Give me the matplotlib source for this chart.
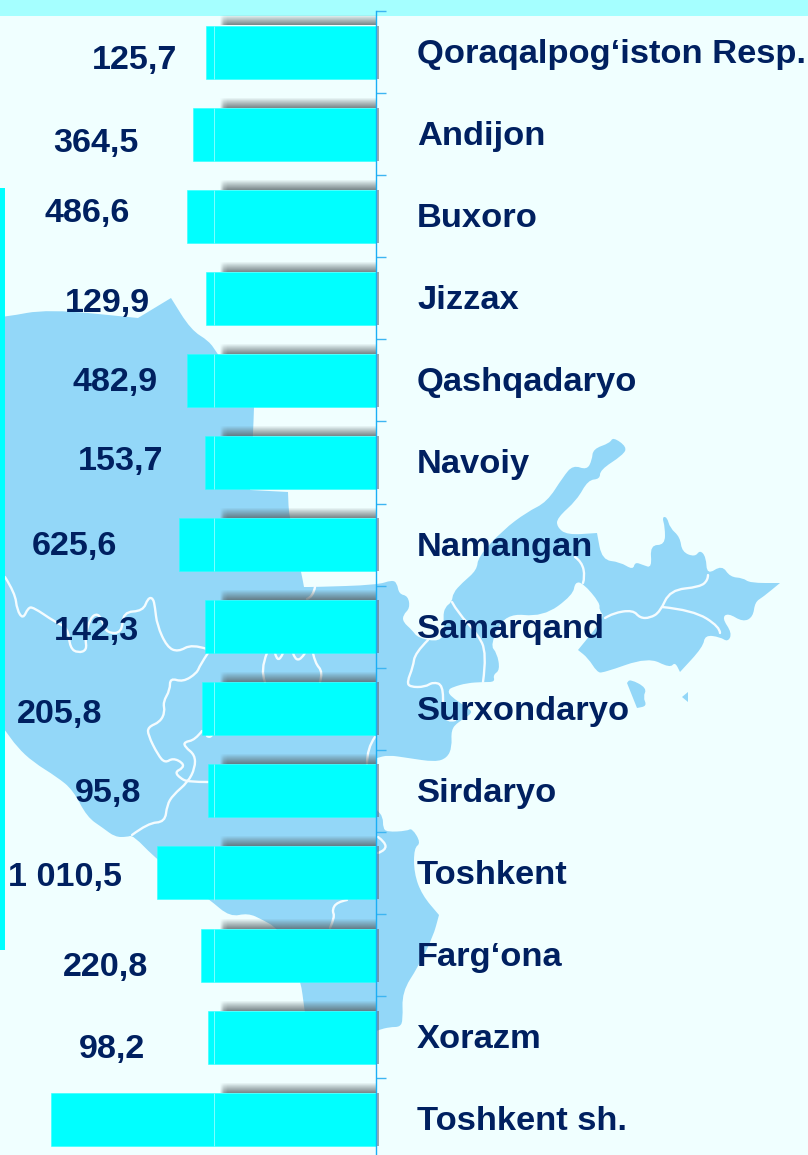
"""Regional bars over a pale map of Uzbekistan."""

import matplotlib

matplotlib.use("Agg")
import matplotlib.pyplot as plt
from matplotlib.patches import PathPatch
from matplotlib.path import Path
import numpy as np

BG = "#F0FFFF"
BAND = "#A5FFFF"
CYAN = "#00FFFF"
MAP = "#93D7F8"
INK = "#002060"
AXIS = "#1AAEF5"
SHADOW = "#566367"

regions = [
    "Qoraqalpog‘iston Resp.", "Andijon", "Buxoro", "Jizzax", "Qashqadaryo", "Navoiy", "Namangan",
    "Samarqand", "Surxondaryo", "Sirdaryo", "Toshkent", "Farg‘ona", "Xorazm", "Toshkent sh.",
]
# bars in the source are not to scale with the printed numbers, so lengths are read off separately
bar_lengths = [169.7, 183, 189.5, 170, 189.5, 171, 197, 170.7, 174, 168, 218.7, 175, 168, 325]
value_labels = [
    "125,7", "364,5", "486,6", "129,9", "482,9", "153,7", "625,6",
    "142,3", "205,8", "95,8", "1 010,5", "220,8", "98,2",
]
# label spots in the source wander a lot, right edge and baseline in pixels
value_right = [177, 139, 130, 150, 158, 163, 117, 139, 102, 141, 122, 148, 145]
value_base = [69, 152, 222, 312, 391, 470, 555, 640, 723, 802, 886, 976, 1058]

# a point listed twice stays a sharp corner after rounding
map_main = [
    (0, 316), (5, 317), (48, 309), (138, 318), (138, 318), (171, 298), (171, 298), (191, 330), (209, 341), (217, 353),
    (254, 407), (254, 407), (253, 436), (250, 490), (250, 490), (288, 492), (288, 492), (289, 518), (301, 571),
    (304, 587), (304, 587), (315, 587), (377, 585), (392, 580),
    (397, 583), (399, 594), (408, 596), (410, 608), (403, 615), (403, 622), (412, 630), (418, 638), (440, 642),
    (445, 630), (443, 617), (445, 607), (452, 602), (453, 593), (462, 583), (477, 570), (478, 557), (503, 530),
    (527, 512), (547, 502), (563, 477), (573, 465), (587, 470), (592, 460), (593, 449), (610, 443), (613, 437),
    (627, 447), (623, 455), (600, 470), (600, 479), (588, 480), (577, 500), (557, 518), (557, 527), (567, 535),
    (597, 533), (597, 533), (602, 560), (620, 562), (633, 570), (635, 562), (643, 565), (652, 568), (650, 545),
    (665, 545), (665, 527), (662, 517), (667, 517), (670, 528), (680, 537), (682, 552), (695, 557), (700, 550),
    (706, 557), (707, 575), (722, 565), (730, 577), (743, 578), (750, 583), (780, 583), (780, 583), (763, 597),
    (755, 602), (753, 617), (743, 622), (728, 613), (722, 618), (732, 633), (728, 642), (720, 637), (705, 635),
    (703, 647), (680, 672), (680, 672), (675, 662), (670, 668), (648, 657), (603, 673), (597, 672), (588, 658),
    (578, 650), (578, 650), (605, 617), (599, 610),
    (600, 603), (583, 583), (575, 582), (573, 595), (543, 617), (505, 613), (490, 645), (497, 653), (500, 670),
    (493, 675), (495, 682), (483, 682), (467, 683), (453, 687), (448, 690), (450, 696), (468, 708), (473, 713),
    (458, 722), (451, 730), (452, 747), (447, 758), (435, 762), (408, 758), (388, 755), (377, 758), (377, 758),
    (377, 810), (377, 810),
    (383, 817), (383, 828), (387, 832), (407, 831), (412, 828), (421, 843), (414, 848), (414, 873), (422, 895),
    (439, 915), (439, 915), (433, 937), (418, 967), (402, 992), (403, 1020), (400, 1027), (390, 1027), (378, 1030),
    (340, 1045), (310, 1045), (304, 1007), (301, 982), (290, 950), (277, 928), (263, 920), (248, 913), (230, 917),
    (210, 900), (157, 860), (133, 835), (127, 837), (115, 837), (103, 828), (87, 817), (73, 790), (57, 777),
    (33, 762), (17, 747), (5, 730), (0, 725),
]
map_islands = [
    [(627, 683), (627, 683), (630, 679), (647, 688), (643, 697), (647, 706), (637, 708), (637, 708)],
    [(682, 697), (682, 697), (688, 692), (688, 692), (688, 702), (688, 702)],
]
map_borders = [
    [(5, 577), (15, 593), (17, 610), (23, 619), (28, 608), (33, 607), (55, 622), (68, 628), (70, 648), (78, 653),
     (87, 650), (85, 638), (90, 618), (98, 613), (103, 623), (107, 633), (122, 633), (123, 612), (143, 611),
     (148, 598), (153, 598), (155, 607), (157, 625), (167, 647), (178, 652), (192, 644), (207, 649)],
    [(208, 653), (200, 665), (197, 673), (183, 682), (170, 678), (170, 690), (163, 702), (165, 712), (160, 722),
     (148, 727), (148, 735), (158, 755), (165, 763), (173, 758), (183, 763), (183, 768), (175, 772), (180, 778),
     (188, 782), (208, 782)],
    [(202, 731), (195, 740), (184, 742), (185, 747), (195, 755), (195, 768), (188, 782), (173, 795), (167, 805),
     (165, 822), (148, 823), (132, 835)],
    [(207, 736), (210, 738), (212, 735)],
    [(267, 653), (260, 670), (265, 682)],
    [(275, 653), (278, 665), (283, 653)],
    [(293, 653), (297, 666), (305, 653)],
    [(313, 653), (315, 663), (323, 672), (320, 682)],
    [(375, 737), (367, 748), (367, 764)],
    [(315, 587), (313, 597), (307, 599)],
    [(330, 928), (335, 917), (332, 910), (337, 902), (347, 900)],
    [(378, 837), (385, 842), (386, 850), (378, 853)],
    [(575, 557), (582, 562), (585, 577), (583, 583)],
    [(605, 618), (613, 613), (633, 610), (640, 618), (650, 618), (660, 612), (670, 590), (700, 587), (708, 580),
     (708, 575)],
    [(662, 607), (693, 610), (720, 627), (720, 633)],
    [(452, 602), (458, 613), (477, 633), (487, 653), (483, 682)],
    [(428, 640), (415, 653), (413, 667), (407, 682), (410, 687), (425, 687), (433, 682), (443, 685), (443, 710),
     (447, 722), (455, 720)],
]


def rounded(points, closed):
    # quadratic curves through the segment midpoints, takes the corners off the traced outline
    pts = np.array(points, dtype=float)
    if closed:
        mids = (pts + np.roll(pts, -1, axis=0)) / 2
        verts = [mids[-1]]
        codes = [Path.MOVETO]
        for p, m in zip(pts, mids):
            verts += [p, m]
            codes += [Path.CURVE3, Path.CURVE3]
        return Path(verts, codes)
    mids = (pts[:-1] + pts[1:]) / 2
    verts = [pts[0]]
    codes = [Path.MOVETO]
    for p, m in zip(pts[1:-1], mids[1:]):
        verts += [p, m]
        codes += [Path.CURVE3, Path.CURVE3]
    verts[-1] = pts[-1]
    return Path(verts, codes)


plt.rcParams["font.family"] = ["Liberation Sans", "DejaVu Sans"]
plt.rcParams["font.weight"] = "bold"

fig = plt.figure(figsize=(8.08, 11.55), dpi=100)
fig.patch.set_facecolor(BG)

# backdrop in plain pixel coordinates
bg = fig.add_axes([0, 0, 1, 1], zorder=0)
bg.set_xlim(0, 808)
bg.set_ylim(1155, 0)
bg.axis("off")
bg.axhspan(0, 15.5, color=BAND, lw=0)
for outline in [map_main] + map_islands:
    bg.add_patch(PathPatch(rounded(outline, True), facecolor=MAP, lw=0))
for line in map_borders:
    bg.add_patch(PathPatch(rounded(line, False), facecolor="none", edgecolor="#F4FCFF", lw=1.7, capstyle="round"))
bg.axvspan(0, 5, ymin=1 - 950 / 1155, ymax=1 - 188 / 1155, color=CYAN, lw=0)
for text, right, base in zip(value_labels, value_right, value_base):
    bg.text(right, base, text, ha="right", va="baseline", fontsize=24.6, color=INK)

# bars: value 0 sits at x=376 px, one category is 82.1 px
ax = fig.add_axes([0, 0, 1, 1], zorder=1)
ax.patch.set_alpha(0)
y = np.arange(len(regions))
bar_h = 53 / 82.1
y_top = -52 / 82.1
y_bottom = (1155 - 52) / 82.1

shadow = np.zeros((14, 40, 4))
shadow[..., :3] = matplotlib.colors.to_rgb(SHADOW)
shadow[..., 3] = (np.linspace(0.04, 0.74, 14)[:, None] ** 0.9) * np.clip(np.linspace(0, 30, 40), 0, 1)[None, :]
for i in y:
    top = i - bar_h / 2
    ax.imshow(shadow, extent=(158, 0, top, top - 10 / 82.1), aspect="auto", interpolation="bilinear", zorder=1)
ax.barh(y, [-2.5] * len(y), height=bar_h, color=SHADOW, alpha=0.55, lw=0, zorder=1)
ax.barh(y, bar_lengths, height=bar_h, color=CYAN, edgecolor="#2CFFFF", lw=0.4, zorder=2)
ax.vlines([162] * len(y), y - bar_h / 2, y + bar_h / 2, color="#7DFFFF", lw=0.7, zorder=3)

ax.set_xlim(376, -432)
ax.set_ylim(y_bottom, y_top)
for side in ("top", "right", "bottom"):
    ax.spines[side].set_visible(False)
ax.spines["left"].set_position(("data", 0))
ax.spines["left"].set_color(AXIS)
ax.spines["left"].set_linewidth(1.0)
ax.spines["left"].set_bounds(-0.5, y_bottom)
ax.spines["left"].set_zorder(5)
ax.set_xticks([])
ax.set_yticks(y - 0.5)
ax.set_yticklabels([])
ax.tick_params(axis="y", direction="in", length=7.5, width=1.0, color="#3DB5F2")

for i, name in zip(y, regions):
    ax.text(-41, i + 11 / 82.1, name, ha="left", va="baseline", fontsize=24.8, color=INK, zorder=6)

fig.savefig("out.png", dpi=100, facecolor=BG)
